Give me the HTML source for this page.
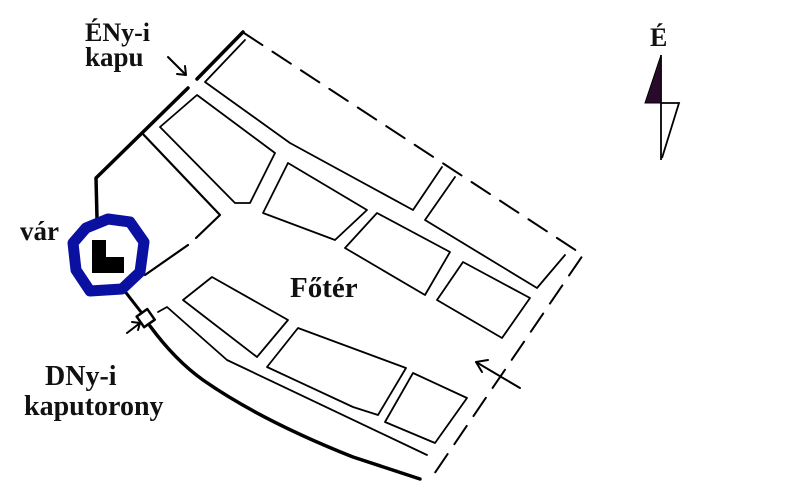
<!DOCTYPE html>
<html><head><meta charset="utf-8"><style>
html,body{margin:0;padding:0;background:#fff;}
svg{display:block;}
text{font-family:"Liberation Serif",serif;font-weight:bold;fill:#111;}
</style></head><body>
<svg width="789" height="500" viewBox="0 0 789 500" xmlns="http://www.w3.org/2000/svg">
<g fill="none" stroke="#000" stroke-linejoin="round" stroke-linecap="round">
<polyline points="244,33 583,255 430,480" stroke-width="2" stroke-dasharray="22,12"/>
<polyline points="188,88 96,178 97,218" stroke-width="3.5"/>
<line x1="243" y1="32" x2="197" y2="79" stroke-width="3.5"/>
<path d="M150,326 Q175,360 203,380 Q260,420 353,457 L420,479" stroke-width="3.5"/>
<polyline points="142,133 220,215 196,238" stroke-width="2.2"/>
<line x1="188" y1="245" x2="145" y2="275" stroke-width="2.2"/>
<g stroke-width="1.8">
<polyline points="245,40 205,82 290,143 413,210 442,167"/>
<polyline points="455,177 425,220 537,288 565,255"/>
<polygon points="160,127 197,95 275,153 250,203 235,203"/>
<polygon points="288,163 367,210 335,240 263,213"/>
<polygon points="377,213 450,252 425,295 345,248"/>
<polygon points="463,262 530,298 502,338 437,300"/>
<polygon points="212,277 288,320 257,357 183,300"/>
<polygon points="298,328 406,368 378,415 353,407 267,367"/>
<polygon points="413,373 467,398 435,443 385,422"/>
<polyline points="158,312 167,307 227,360 427,455"/>
</g>
<line x1="120" y1="285" x2="141" y2="312" stroke-width="3"/>
<rect x="139" y="312" width="13" height="13" transform="rotate(-35 145 318)" stroke-width="2.5"/>
<line x1="168" y1="57" x2="185" y2="74" stroke-width="2"/>
<polyline points="177,74 186,75 185,66" stroke-width="2"/>
<line x1="127" y1="333" x2="140" y2="323" stroke-width="2"/>
<polyline points="132,322 140,323 138,330" stroke-width="2"/>
<line x1="520" y1="388" x2="476" y2="362" stroke-width="2"/>
<polyline points="482,372 476,362 488,360" stroke-width="2"/>
</g>
<polygon points="86,228 108,219 130,222 144,242 140,272 122,289 90,291 76,270 73,243" fill="#fff" stroke="#0a10a0" stroke-width="11" stroke-linejoin="round"/>
<polygon points="92,240 106,240 106,257 124,257 124,273 92,273" fill="#000"/>
<line x1="661" y1="55" x2="661" y2="160" stroke="#000" stroke-width="1.8"/>
<polygon points="661,55 661,103 645,103" fill="#2a0a2a" stroke="#000" stroke-width="1"/>
<polyline points="661,103 679,103 662,158" fill="none" stroke="#000" stroke-width="1.8"/>
<text x="650" y="46" font-size="26">É</text>
<text x="85" y="41" font-size="26">ÉNy-i</text>
<text x="85" y="66" font-size="27">kapu</text>
<text x="20" y="240" font-size="27">vár</text>
<text x="45" y="385" font-size="28">DNy-i</text>
<text x="24" y="415" font-size="28">kaputorony</text>
<text x="290" y="297" font-size="29">Főtér</text>
</svg>
</body></html>
